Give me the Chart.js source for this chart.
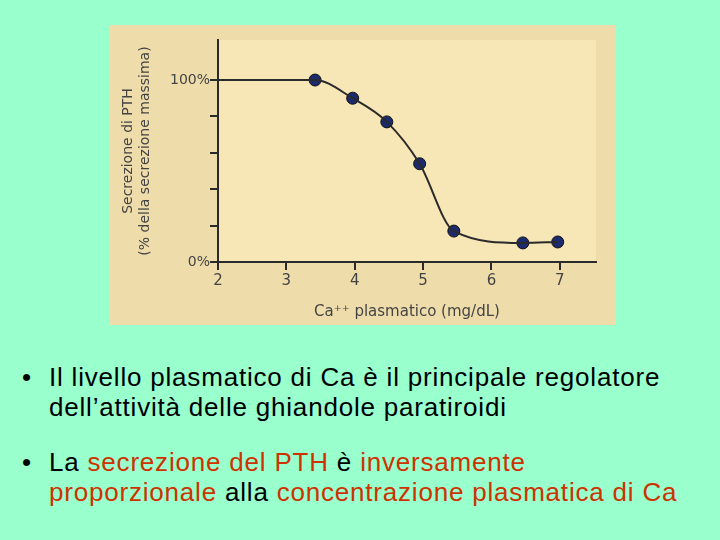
<!DOCTYPE html>
<html><head><meta charset="utf-8">
<script src="https://cdn.jsdelivr.net/npm/chart.js@4/dist/chart.umd.min.js"></script>
<style>
body{margin:0;width:720px;height:540px;background:#99ffcc;position:relative;overflow:hidden;font-family:"Liberation Sans",Arial,sans-serif;}
#wrap{position:absolute;left:110px;top:25px;width:505px;height:300px;background:#efdcab;}
ul{position:absolute;left:18px;top:362px;margin:0;padding:0;list-style:none;font-size:26px;letter-spacing:0.8px;line-height:30px;color:#000;white-space:nowrap;}
li{position:relative;padding-left:31px;margin-bottom:25px;}
li:before{content:"•";position:absolute;left:4px;}
.r{color:#cc3300;}
</style></head><body>
<div id="wrap"><canvas id="c" width="505" height="300"></canvas></div>
<ul>
<li>Il livello plasmatico di Ca è il principale regolatore<br>dell’attività delle ghiandole paratiroidi</li>
<li>La <span class="r">secrezione del PTH</span> è <span class="r">inversamente</span><br><span class="r">proporzionale</span> alla <span class="r">concentrazione plasmatica di Ca</span></li>
</ul>
<script>
const curveX = [1.97, 3.42, 3.97, 4.47, 4.95, 5.45, 6.46, 6.97];
const curveY = [100, 100, 90, 77, 54, 17, 10.5, 11];
const pointX = [3.42, 3.97, 4.47, 4.95, 5.45, 6.46, 6.97];
const pointY = [100, 90, 77, 54, 17, 10.5, 11];
const xTicks = [2, 3, 4, 5, 6, 7];
const yLabeled = {0: "0%", 100: "100%"};
const ink = "#2a2a2a";
const bgPlugin = {id:"bg", beforeDraw(ch){const a=ch.chartArea,c=ch.ctx;c.save();c.fillStyle="#f7e6b6";c.fillRect(a.left,a.top,a.right-a.left,a.bottom-a.top);c.restore();}};
new Chart(document.getElementById("c"), {
  type: "scatter",
  data: { datasets: [
    { data: curveX.map((x,i)=>({x, y: curveY[i]})), showLine: true, borderColor: ink, borderWidth: 2, pointRadius: 0, cubicInterpolationMode: "monotone" },
    { data: pointX.map((x,i)=>({x, y: pointY[i]})), backgroundColor: "#1c2a6e", borderColor: "#111", borderWidth: 1, pointRadius: 6 }
  ]},
  options: {
    responsive: false, animation: false, events: [],
    layout: { padding: { top: 15, right: 19, left: 10 } },
    plugins: { legend: { display: false }, tooltip: { enabled: false } },
    scales: {
      x: { type: "linear", min: 2, max: 7.53,
        afterBuildTicks(s){ s.ticks = xTicks.map(v=>({value:v})); },
        afterFit(s){ s.height = 63; },
        border: { color: ink, width: 2 },
        grid: { drawOnChartArea: false, color: ink, tickLength: 8, lineWidth: 2 },
        ticks: { color: "#444", font: { family: "DejaVu Sans", size: 15 }, padding: 2 },
        title: { display: true, text: "Ca⁺⁺ plasmatico (mg/dL)", color: "#444", font: { family: "DejaVu Sans", size: 15 }, padding: { top: 6 } } },
      y: { min: 0, max: 122,
        afterBuildTicks(s){ s.ticks = [0,20,40,60,80,100].map(v=>({value:v})); },
        afterFit(s){ s.width = 98; },
        border: { color: ink, width: 2 },
        grid: { drawOnChartArea: false, color: ink, tickLength: 8, lineWidth: 2 },
        ticks: { color: "#444", font: { family: "DejaVu Sans", size: 14 }, padding: 0, callback: v => yLabeled[v] || "" },
        title: { display: true, text: ["Secrezione di PTH", "(% della secrezione massima)"], color: "#444", font: { family: "DejaVu Sans", size: 14 }, padding: 0 } }
    }
  },
  plugins: [bgPlugin]
});
</script>
</body></html>
